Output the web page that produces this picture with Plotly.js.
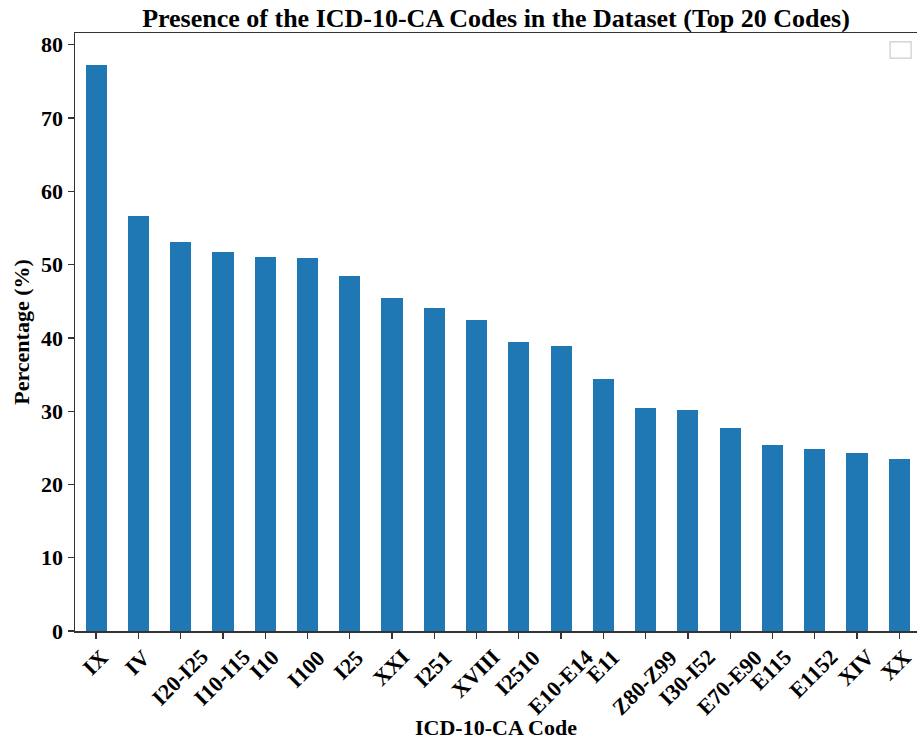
<!DOCTYPE html>
<html>
<head>
<meta charset="utf-8">
<script src="https://cdn.plot.ly/plotly-3.0.1.min.js"></script>
<style>html,body{margin:0;padding:0;background:#fff;}#chart{width:917px;height:742px;}</style>
</head>
<body>
<div id="chart"></div>
<script>
const codes = ["IX","IV","I20-I25","I10-I15","I10","I100","I25","XXI","I251","XVIII","I2510","E10-E14","E11","Z80-Z99","I30-I52","E70-E90","E115","E1152","XIV","XX"];
const percentages = [77.3,56.6,53.1,51.7,51.1,50.9,48.5,45.5,44.1,42.5,39.45,38.9,34.4,30.4,30.2,27.7,25.4,24.85,24.3,23.5];
const yTicks = [0,10,20,30,40,50,60,70,80];
const chartTitle = "Presence of the ICD-10-CA Codes in the Dataset (Top 20 Codes)";
const xTitle = "ICD-10-CA Code";
const yTitle = "Percentage (%)";

const FONT = "'Liberation Serif', 'Times New Roman', serif";
const idx = codes.map((c,i)=>i);

const trace = {
  type: 'bar',
  x: idx,
  y: percentages,
  width: 0.5,
  marker: {color: '#1f77b4', line: {width: 0}},
  hoverinfo: 'x+y'
};

const tickAnnotations = codes.map((c,i)=>({
  x: i, xref: 'x', y: 0, yref: 'paper',
  yanchor: 'top', xanchor: 'center',
  yshift: -11,
  xshift: (i === codes.length - 1) ? -3 : -1,
  text: '<b>' + c + '</b>',
  textangle: -45,
  showarrow: false,
  font: {family: FONT, size: 22, color: '#000'}
}));

const layout = {
  width: 917, height: 742,
  margin: {l: 75, r: 0, t: 33, b: 111, pad: 0},
  paper_bgcolor: '#fff', plot_bgcolor: '#fff',
  showlegend: false,
  bargap: 0,
  title: {
    text: '<b>' + chartTitle + '</b>',
    font: {family: FONT, size: 26, color: '#000'},
    x: 0.5, xref: 'paper', xanchor: 'center',
    y: 0.9757, yref: 'container', yanchor: 'middle'
  },
  xaxis: {
    type: 'linear',
    range: [-0.5, 19.42],
    tickmode: 'array', tickvals: idx, ticktext: codes,
    showticklabels: false,
    ticks: 'outside', ticklen: 6, tickwidth: 1.3, tickcolor: '#333',
    showline: true, mirror: true, linecolor: '#333', linewidth: 1.5,
    showgrid: false, zeroline: false,
    title: {text: '<b>' + xTitle + '</b>', font: {family: FONT, size: 22, color: '#000'}, standoff: 82}
  },
  yaxis: {
    range: [0, 81.6],
    tickmode: 'array', tickvals: yTicks,
    ticktext: yTicks.map(v => '<b>' + v + '</b>'),
    ticks: 'outside', ticklen: 6, tickwidth: 1.3, tickcolor: '#333',
    tickfont: {family: FONT, size: 22, color: '#000'},
    showline: true, linecolor: '#333', linewidth: 1.5,
    showgrid: false, zeroline: false,
    title: {text: '<b>' + yTitle + '</b>', font: {family: FONT, size: 22, color: '#000'}, standoff: 5}
  },
  annotations: tickAnnotations,
  shapes: [{
    type: 'rect', xref: 'paper', yref: 'paper',
    x0: 0.968, x1: 0.993, y0: 0.958, y1: 0.985,
    line: {color: 'rgba(0,0,0,0.2)', width: 1.2}, fillcolor: 'rgba(255,255,255,0.8)'
  }]
};

Plotly.newPlot('chart', [trace], layout, {displayModeBar: false, staticPlot: true});
</script>
</body>
</html>
